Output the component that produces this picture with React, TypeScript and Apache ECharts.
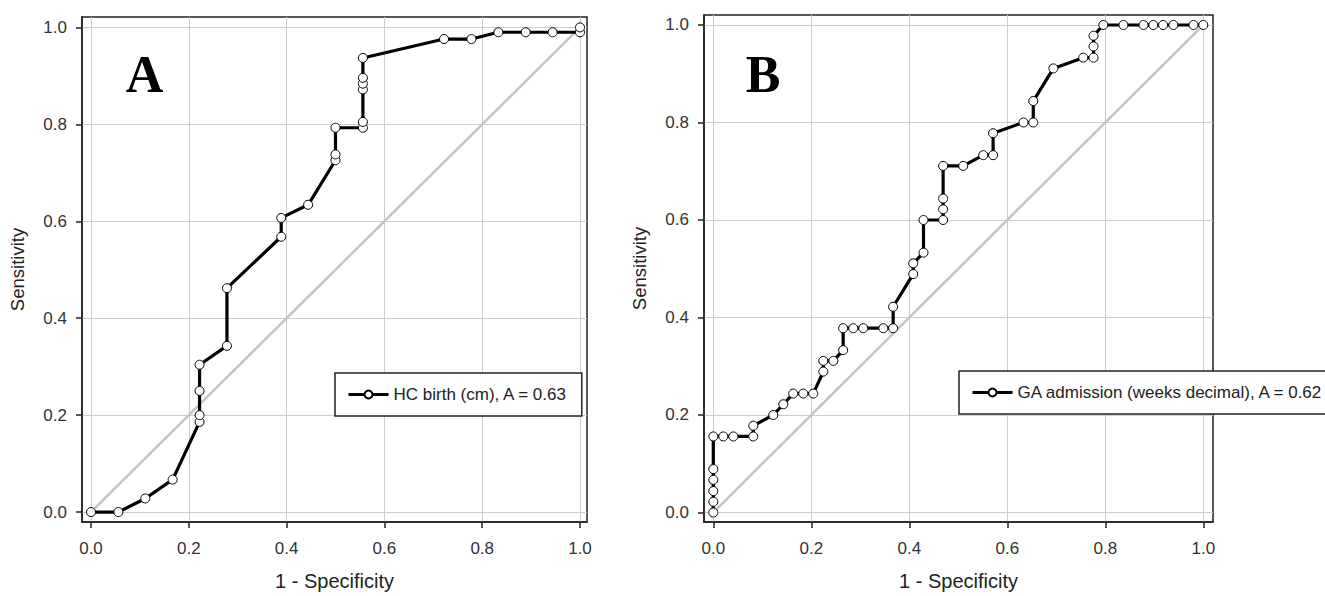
import React, { useEffect, useRef } from "react";
import * as echarts from "echarts";

// ---- data ----
const TICKS = [0, 0.2, 0.4, 0.6, 0.8, 1.0];

const A_NAME = "HC birth (cm), A = 0.63";
const A_FPR = [0, 0.056, 0.111, 0.167, 0.222, 0.222, 0.222, 0.222, 0.278, 0.278, 0.389, 0.389, 0.444, 0.5, 0.5, 0.5, 0.556, 0.556, 0.556, 0.556, 0.556, 0.556, 0.722, 0.778, 0.833, 0.889, 0.944, 1.0, 1.0];
const A_TPR = [0, 0, 0.028, 0.067, 0.186, 0.2, 0.25, 0.304, 0.343, 0.462, 0.568, 0.607, 0.634, 0.726, 0.738, 0.793, 0.793, 0.805, 0.872, 0.884, 0.896, 0.937, 0.976, 0.976, 0.99, 0.99, 0.99, 0.99, 1.0];

const B_NAME = "GA admission (weeks decimal), A = 0.62";
const B_FPR = [0, 0, 0, 0, 0, 0, 0.0204, 0.041, 0.0816, 0.0816, 0.1224, 0.1429, 0.163, 0.1837, 0.204, 0.2245, 0.2245, 0.245, 0.265, 0.265, 0.2857, 0.306, 0.347, 0.367, 0.367, 0.408, 0.408, 0.429, 0.429, 0.469, 0.469, 0.469, 0.469, 0.51, 0.551, 0.571, 0.571, 0.633, 0.653, 0.653, 0.694, 0.755, 0.776, 0.776, 0.776, 0.796, 0.837, 0.878, 0.898, 0.918, 0.939, 0.98, 1.0];
const B_TPR = [0, 0.022, 0.044, 0.067, 0.089, 0.156, 0.156, 0.156, 0.156, 0.178, 0.2, 0.222, 0.244, 0.244, 0.244, 0.289, 0.311, 0.311, 0.333, 0.378, 0.378, 0.378, 0.378, 0.378, 0.422, 0.489, 0.511, 0.533, 0.6, 0.6, 0.622, 0.644, 0.711, 0.711, 0.733, 0.733, 0.778, 0.8, 0.8, 0.844, 0.911, 0.933, 0.933, 0.956, 0.978, 1.0, 1.0, 1.0, 1.0, 1.0, 1.0, 1.0, 1.0];

const DIAG_X = [0, 1];
const DIAG_Y = [0, 1];

const X_NAME = "1 - Specificity";
const Y_NAME = "Sensitivity";
const PANEL_LABELS = ["A", "B"];

const FONT = '"Liberation Sans", Arial, sans-serif';
const DARK = "#222";

function zip(xs: number[], ys: number[]) {
  return xs.map((x, i) => [x, ys[i]]);
}

function fmt(v: number) {
  return Math.abs(v * 5 - Math.round(v * 5)) < 1e-6 ? v.toFixed(1) : "";
}

function makeXAxis(gridIndex: number, min: number, max: number) {
  return {
    type: "value",
    gridIndex,
    min,
    max,
    name: X_NAME,
    nameLocation: "middle",
    nameGap: 49,
    nameTextStyle: { fontSize: 20, color: DARK, fontFamily: FONT },
    axisLine: { show: true, onZero: false, lineStyle: { color: DARK, width: 1.5 } },
    axisTick: { show: true, length: 6, customValues: TICKS, lineStyle: { color: DARK, width: 1.5 } },
    axisLabel: { customValues: TICKS, formatter: fmt, fontSize: 17, color: "#333", margin: 18, fontFamily: FONT },
    splitLine: { show: true, lineStyle: { color: "#cccccc", width: 1 } },
  };
}

function makeYAxis(gridIndex: number, min: number, max: number) {
  return {
    type: "value",
    gridIndex,
    min,
    max,
    name: Y_NAME,
    nameLocation: "middle",
    nameGap: 55,
    nameTextStyle: { fontSize: 18.5, color: DARK, fontFamily: FONT },
    axisLine: { show: true, onZero: false, lineStyle: { color: DARK, width: 1.5 } },
    axisTick: { show: true, length: 6, customValues: TICKS, lineStyle: { color: DARK, width: 1.5 } },
    axisLabel: { customValues: TICKS, formatter: fmt, fontSize: 17, color: "#333", margin: 15, fontFamily: FONT },
    splitLine: { show: true, lineStyle: { color: "#cccccc", width: 1 } },
  };
}

function curve(name: string, idx: number, xs: number[], ys: number[]) {
  return {
    name,
    type: "line",
    xAxisIndex: idx,
    yAxisIndex: idx,
    data: zip(xs, ys),
    symbol: "circle",
    symbolSize: 9,
    showSymbol: true,
    lineStyle: { color: "#000", width: 3.2 },
    itemStyle: { color: "#fff", borderColor: "#000", borderWidth: 1 },
    emphasis: { disabled: true },
    z: 4,
  };
}

function diag(idx: number) {
  return {
    name: "ref" + idx,
    type: "line",
    xAxisIndex: idx,
    yAxisIndex: idx,
    data: zip(DIAG_X, DIAG_Y),
    symbol: "none",
    lineStyle: { color: "#c4c4c4", width: 2.5 },
    emphasis: { disabled: true },
    z: 2,
  };
}

function makeLegend(name: string, left: number, top: number) {
  return {
    data: [name],
    left,
    top,
    orient: "horizontal",
    borderColor: DARK,
    borderWidth: 1.5,
    backgroundColor: "#fff",
    padding: [13, 14, 13, 12],
    itemWidth: 40,
    itemHeight: 10,
    selectedMode: false,
    lineStyle: { width: 3 },
    textStyle: { fontSize: 17, color: DARK, fontFamily: FONT },
  };
}

export default function App() {
  const ref = useRef<HTMLDivElement>(null);

  useEffect(() => {
    if (!ref.current) return;
    const chart = echarts.init(ref.current, undefined, { renderer: "svg" });
    const option = {
      animation: false,
      backgroundColor: "#fff",
      grid: [
        { left: 82, top: 17, width: 505, height: 508, show: true, borderColor: DARK, borderWidth: 1.5, backgroundColor: "transparent" },
        { left: 704, top: 15, width: 509, height: 507, show: true, borderColor: DARK, borderWidth: 1.5, backgroundColor: "transparent" },
      ],
      xAxis: [makeXAxis(0, -0.0184, 1.0143), makeXAxis(1, -0.019, 1.0198)],
      yAxis: [makeYAxis(0, -0.0205, 1.0215), makeYAxis(1, -0.0195, 1.0205)],
      legend: [makeLegend(A_NAME, 335, 373), makeLegend(B_NAME, 959, 371)],
      series: [diag(0), curve(A_NAME, 0, A_FPR, A_TPR), diag(1), curve(B_NAME, 1, B_FPR, B_TPR)],
      graphic: [
        {
          type: "text",
          x: 144.5,
          y: 74,
          z: 10,
          style: { text: PANEL_LABELS[0], font: 'bold 52px "Liberation Serif", "Times New Roman", serif', fill: "#000", align: "center", verticalAlign: "middle" },
        },
        {
          type: "text",
          x: 763,
          y: 74,
          z: 10,
          style: { text: PANEL_LABELS[1], font: 'bold 52px "Liberation Serif", "Times New Roman", serif', fill: "#000", align: "center", verticalAlign: "middle" },
        },
      ],
    };
    chart.setOption(option as any);
    return () => chart.dispose();
  }, []);

  return (
    <div
      ref={ref}
      style={{ position: "fixed", left: 0, top: 0, width: 1325, height: 596, background: "#fff" }}
    />
  );
}
